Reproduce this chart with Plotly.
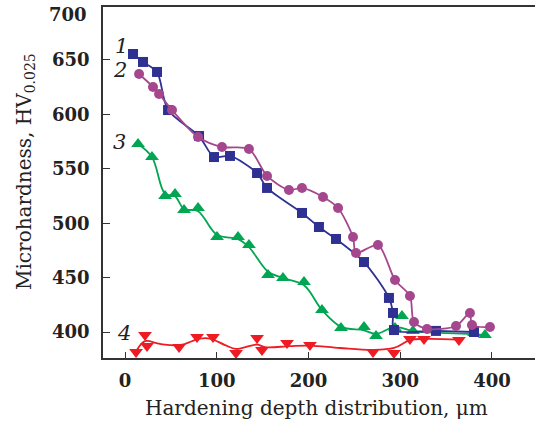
import plotly.graph_objects as go

# Series 1 (blue squares)
s1_x = [8.7, 19.6, 34.9, 46.9, 80.7, 97.0, 114.4, 143.9, 154.8, 192.9, 211.4, 230.0, 260.5, 287.7, 292.1, 293.2, 339.0, 380.4]
s1_y = [655.5, 648.2, 639.0, 604.0, 580.1, 560.8, 561.8, 546.1, 532.4, 509.4, 496.5, 485.5, 464.3, 431.3, 417.5, 401.8, 401.0, 400.0]

# Series 2 (purple circles)
s2_x = [15.3, 30.5, 37.1, 51.2, 79.6, 105.7, 135.1, 154.8, 178.7, 192.9, 215.8, 232.2, 248.5, 251.8, 275.7, 294.3, 310.6, 315.0, 329.2, 360.8, 376.0, 378.2, 397.8]
s2_y = [637.1, 625.2, 618.8, 604.0, 579.2, 570.0, 568.2, 543.4, 530.5, 532.4, 524.1, 514.0, 487.3, 472.6, 480.0, 447.8, 433.1, 409.2, 402.8, 405.5, 417.5, 406.4, 404.6]

# Series 3 (green triangles)
s3_x = [14.2, 29.4, 43.6, 54.5, 64.3, 79.6, 100.3, 123.2, 135.1, 155.9, 172.2, 195.1, 214.7, 235.4, 260.5, 273.6, 294.3, 301.9, 313.9, 380.4, 392.4]
s3_y = [572.8, 560.8, 525.0, 526.8, 512.1, 514.0, 487.3, 487.3, 480.0, 452.4, 449.6, 446.0, 420.2, 403.7, 404.6, 396.3, 403.7, 414.7, 400.9, 399.1, 397.2]
# green fitted curve
c3_x = [14.2, 29.4, 43.6, 54.5, 64.3, 79.6, 100.3, 123.2, 135.1, 155.9, 172.2, 195.1, 214.7, 235.4, 260.5, 273.6, 294.3, 313.9, 380.4, 392.4]
c3_y = [572.8, 560.8, 527.0, 524.8, 513.1, 511.0, 489.3, 485.3, 478.0, 455.4, 449.6, 443.0, 420.2, 404.7, 401.6, 398.3, 404.7, 400.9, 398.1, 397.2]

# Series 4 (red inverted triangles)
s4_x = [12.0, 21.8, 24.0, 58.9, 78.5, 95.9, 121.0, 143.9, 149.3, 176.6, 201.6, 270.3, 293.2, 310.6, 325.9, 364.0]
s4_y = [381.6, 397.2, 387.1, 386.2, 395.4, 395.4, 380.7, 394.5, 383.5, 389.9, 388.1, 381.6, 380.7, 393.6, 393.6, 392.6]
# red fitted curve
c4_x = [13.0, 21.8, 38.1, 60.0, 81.7, 92.6, 109.0, 121.0, 143.9, 152.6, 179.8, 201.6, 234.0, 270.3, 293.2, 310.6, 327.0, 365.1]
c4_y = [383.5, 391.6, 389.0, 388.0, 394.0, 394.0, 388.0, 384.4, 388.5, 386.0, 387.0, 387.5, 385.3, 383.5, 385.3, 392.6, 393.6, 393.0]

BLUE = "#2e3192"
PURPLE = "#a5478e"
GREEN = "#00a651"
RED = "#ed1c24"

fig = go.Figure()
# red
fig.add_trace(go.Scatter(x=c4_x, y=c4_y, mode="lines", line=dict(color=RED, width=1.8, shape="spline", smoothing=1), showlegend=False))
fig.add_trace(go.Scatter(x=s4_x, y=s4_y, mode="markers", marker=dict(symbol="triangle-down", size=12, color=RED), showlegend=False))
# green
fig.add_trace(go.Scatter(x=c3_x, y=c3_y, mode="lines", line=dict(color=GREEN, width=1.8, shape="spline", smoothing=1), showlegend=False))
fig.add_trace(go.Scatter(x=s3_x, y=s3_y, mode="markers", marker=dict(symbol="triangle-up", size=12, color=GREEN), showlegend=False))
# blue
fig.add_trace(go.Scatter(x=s1_x, y=s1_y, mode="lines+markers", line=dict(color=BLUE, width=1.8, shape="spline", smoothing=0.8),
                         marker=dict(symbol="square", size=10, color=BLUE), showlegend=False))
# purple
fig.add_trace(go.Scatter(x=s2_x, y=s2_y, mode="lines+markers", line=dict(color=PURPLE, width=1.8, shape="spline", smoothing=0.8),
                         marker=dict(symbol="circle", size=10, color=PURPLE), showlegend=False))

SERIF = "DejaVu Serif"
tickfont = dict(family=SERIF, size=18, color="#222", weight="bold")

fig.update_layout(
    width=535, height=431,
    margin=dict(l=103, r=0, t=7, b=73),
    paper_bgcolor="white", plot_bgcolor="white",
    xaxis=dict(range=[-24.0, 446.9], tickvals=[0, 100, 200, 300, 400], ticks="inside", ticklen=6,
               tickcolor="#333", showline=True, linecolor="#333", linewidth=1.5, mirror=True,
               showgrid=False, zeroline=False, tickfont=tickfont, ticklabelstandoff=6),
    yaxis=dict(range=[376.1, 698.7], tickvals=[400, 450, 500, 550, 600, 650], ticks="inside", ticklen=7,
               tickcolor="#333", showline=True, linecolor="#333", linewidth=1.5, mirror=False,
               showgrid=False, zeroline=False, tickfont=tickfont, ticklabelstandoff=8),
)

def px_to_paper(px, py):
    return (px - 103) / (535 - 103), (431 - 73 - py) / (431 - 73 - 7)

annots = [
    dict(text="700", x=89, y=15, xanchor="right", size=18, weight="bold"),
    dict(text="Hardening depth distribution, μm", x=316, y=408, xanchor="center", size=20),
    dict(text="Microhardness, HV<sub>0.025</sub>", x=25, y=172, xanchor="center", size=20, textangle=-90),
]
for a in annots:
    ax, ay = px_to_paper(a["x"], a["y"])
    fig.add_annotation(text=a["text"], xref="paper", yref="paper", x=ax, y=ay,
                       xanchor=a["xanchor"], yanchor="middle", showarrow=False,
                       textangle=a.get("textangle", 0),
                       font=dict(family=SERIF, size=a["size"], color="#222", weight=a.get("weight", "normal")))

for lab, px, py in [("1", 121, 46), ("2", 120, 70), ("3", 119, 142), ("4", 124, 333)]:
    ax, ay = px_to_paper(px, py)
    fig.add_annotation(text="<i>" + lab + "</i>", xref="paper", yref="paper", x=ax, y=ay,
                       xanchor="center", yanchor="middle", showarrow=False,
                       font=dict(family=SERIF, size=21, color="#222"))

fig.write_html("out.html")
